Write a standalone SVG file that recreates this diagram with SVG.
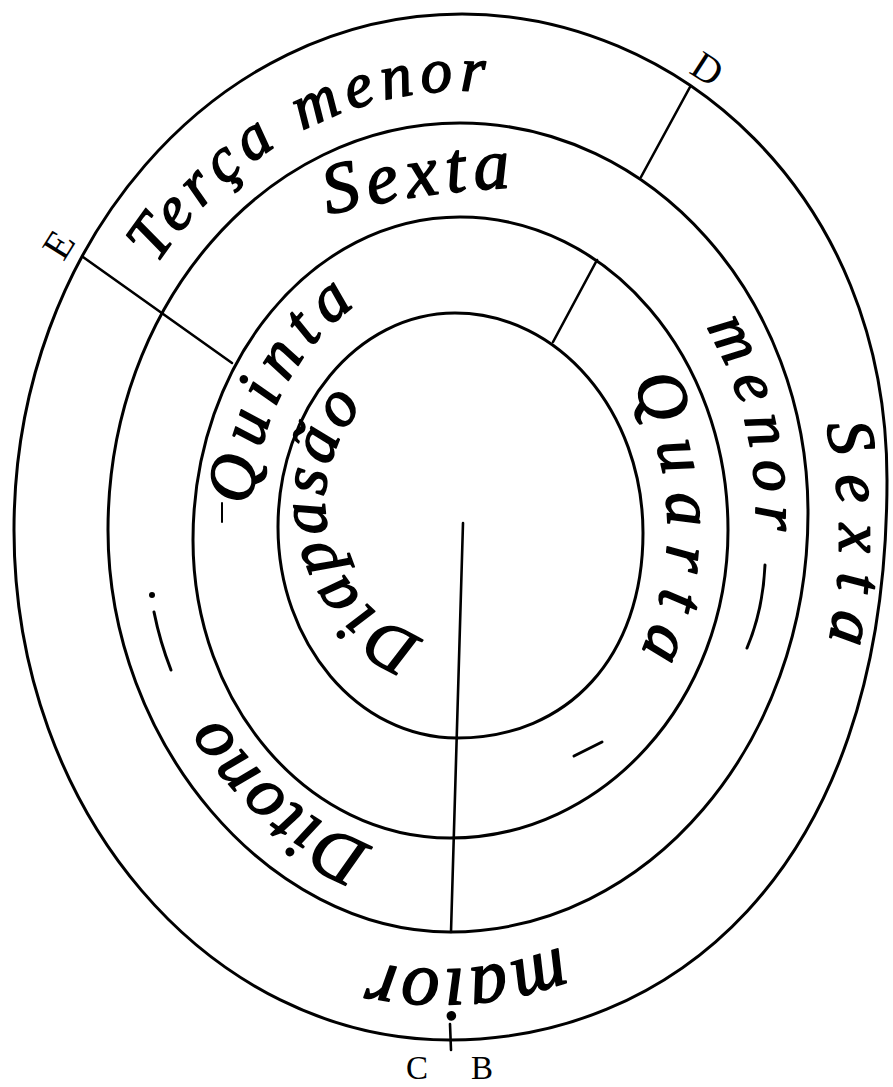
<svg xmlns="http://www.w3.org/2000/svg" width="893" height="1087" viewBox="0 0 893 1087">
<style>
.ring{fill:none;stroke:#000;stroke-width:3;stroke-linejoin:round}
.rule{fill:none;stroke:#000;stroke-width:2.6;stroke-linecap:round}
.mark{fill:none;stroke:#000;stroke-width:3;stroke-linecap:round}
.hand{font-family:"Liberation Serif","DejaVu Serif",serif;font-style:italic;fill:#000;stroke:#000;stroke-width:1.6;stroke-linejoin:round}
.letter{font-family:"Liberation Serif","DejaVu Serif",serif;fill:#000}
</style>
<defs>
<path id="p-terca" d="M 157 264 A 385 440 0 0 1 560 105"/>
<path id="p-sexta-top" d="M 328 215 A 900 900 0 0 1 600 188"/>
<path id="p-quinta" d="M 252 505 A 212 255 0 0 1 385 288"/>
<path id="p-quarta" d="M 631 383 A 208 255 0 0 1 620 690"/>
<path id="p-menor-r" d="M 706 327 A 292 330 0 0 1 745 600"/>
<path id="p-sexta-r" d="M 826 425 A 388 440 0 0 1 819 680"/>
<path id="p-maior" d="M 560 947 A 330 330 0 0 1 320 947"/>
<path id="p-ditono" d="M 372 846 A 292 335 0 0 1 195 668"/>
<path id="p-diapasao" d="M 423 638 A 142 142 0 0 1 396 380"/>
</defs>
<rect width="893" height="1087" fill="#fff"/>

<g id="ring-outer">
<path class="ring" d="M 462 14 C 674.5 14 887 191 887 480 C 887 883.2 659.8 1040 450 1040 C 209.2 1040 14 811.7 14 530 C 14 245 214.6 14 462 14 Z"/>
</g>
<g id="ring-second">
<path class="ring" d="M 460 123 C 652.2 123 808 297.6 808 513 C 808 744.4 647.7 932 450 932 C 268.7 932 108 743 108 530 C 108 305.2 265.6 123 460 123 Z"/>
</g>
<g id="ring-third">
<path class="ring" d="M 460 217 C 608 217 728 357.1 728 530 C 728 700.1 603.5 838 450 838 C 308.1 838 193 704.6 193 540 C 193 361.6 312.5 217 460 217 Z"/>
</g>
<g id="ring-inner">
<path class="ring" d="M 455 313 C 558.8 313 643 411.5 643 533 C 643 656 568.6 738 457 738 C 358.1 738 278 643.5 278 527 C 278 408.8 357.2 313 455 313 Z"/>
</g>

<g id="connectors">
<line class="rule" x1="463" y1="523" x2="451" y2="932"/>
<line class="rule" x1="83" y1="257" x2="232" y2="363"/>
<line class="rule" x1="690" y1="87" x2="641" y2="177"/>
<line class="rule" x1="597" y1="260" x2="553" y2="342"/>
<line class="rule" x1="450" y1="1024" x2="451" y2="1050"/>
</g>

<g id="marks">
<circle cx="152" cy="595" r="3" fill="#000"/>
<path class="mark" d="M 154 612 Q 160 642 171 670"/>
<path class="mark" d="M 765 565 Q 763 610 747 648"/>
<path class="mark" d="M 574 756 L 602 742"/>
<path class="mark" style="stroke-width:2" d="M 222 503 L 222 522"/>
</g>

<g id="label-terca-menor"><text class="hand" font-size="63"><textPath href="#p-terca" textLength="388">Terça menor</textPath></text></g>
<g id="label-sexta-top"><text class="hand" font-size="72"><textPath href="#p-sexta-top" textLength="185">Sexta</textPath></text></g>
<g id="label-quinta"><text class="hand" font-size="66"><textPath href="#p-quinta" textLength="232">Quinta</textPath></text></g>
<g id="label-quarta"><text class="hand" font-size="68"><textPath href="#p-quarta" textLength="280">Quarta</textPath></text></g>
<g id="label-menor"><text class="hand" font-size="64"><textPath href="#p-menor-r" textLength="212">menor</textPath></text></g>
<g id="label-sexta-right"><text class="hand" font-size="66"><textPath href="#p-sexta-r" textLength="218">Sexta</textPath></text></g>
<g id="label-maior"><text class="hand" font-size="76"><textPath href="#p-maior" textLength="193">maior</textPath></text></g>
<g id="label-ditono"><text class="hand" font-size="70"><textPath href="#p-ditono" textLength="205">Ditono</textPath></text></g>
<g id="label-diapasao"><text class="hand" font-size="66"><textPath href="#p-diapasao" textLength="285">Diapasão</textPath></text></g>

<g id="point-D"><text class="letter" font-size="40" text-anchor="middle" transform="translate(700 80) rotate(33)">D</text></g>
<g id="point-E"><text class="letter" font-size="40" text-anchor="middle" transform="translate(70 252) rotate(-58)">E</text></g>
<g id="point-C"><text class="letter" font-size="33" text-anchor="middle" x="417" y="1079">C</text></g>
<g id="point-B"><text class="letter" font-size="33" text-anchor="middle" x="482" y="1079">B</text></g>
</svg>
